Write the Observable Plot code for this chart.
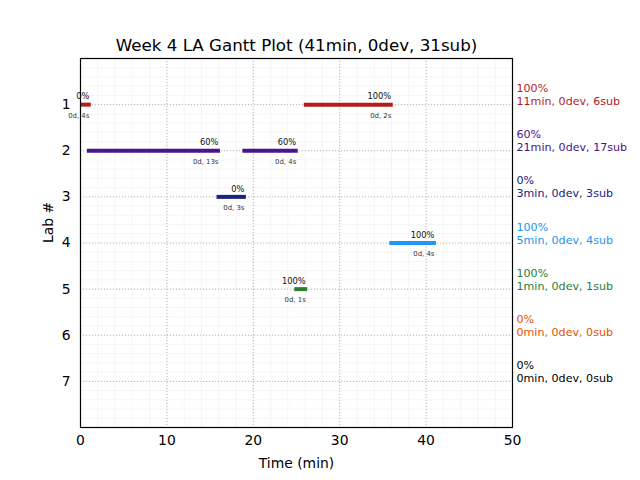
<!DOCTYPE html>
<html><head><meta charset="utf-8">
<script src="https://cdn.jsdelivr.net/npm/d3@7"></script>
<script src="https://cdn.jsdelivr.net/npm/@observablehq/plot@0.6"></script>
<style>body{margin:0;background:#fff}svg{font-family:"DejaVu Sans",sans-serif}</style>
</head><body><div id="chart"></div>
<script>
const title = "Week 4 LA Gantt Plot (41min, 0dev, 31sub)";
const labs = [1, 2, 3, 4, 5, 6, 7];
const labColors = ["#b71c1c", "#4a148c", "#1a237e", "#2196f3", "#2e7d32", "#e65100", "#000000"];
const labPercent = ["100%", "60%", "0%", "100%", "100%", "0%", "0%"];
const labStats = ["11min, 0dev, 6sub", "21min, 0dev, 17sub", "3min, 0dev, 3sub", "5min, 0dev, 4sub", "1min, 0dev, 1sub", "0min, 0dev, 0sub", "0min, 0dev, 0sub"];
const segLab = [1, 1, 2, 2, 3, 4, 5];
const segStart = [0, 25.9, 0.8, 18.8, 15.8, 35.8, 24.8];
const segEnd = [1.25, 36.2, 16.2, 25.2, 19.2, 41.2, 26.3];
const segPercent = ["0%", "100%", "60%", "60%", "0%", "100%", "100%"];
const segTime = ["0d, 4s", "0d, 2s", "0d, 13s", "0d, 4s", "0d, 3s", "0d, 4s", "0d, 1s"];
const xTicks = [0, 10, 20, 30, 40, 50];
const yTicks = [1, 2, 3, 4, 5, 6, 7];

const segs = segLab.map((l, i) => ({lab: l, start: segStart[i], end: segEnd[i], pct: segPercent[i], time: segTime[i], color: labColors[l - 1]}));
const rows = labs.map((l, i) => ({lab: l, color: labColors[i], pct: labPercent[i], stats: labStats[i]}));
const minorX = d3.range(0, 50.001, 2);
const minorY = d3.range(0, 8.001, 0.2);

const chart = Plot.plot({
  width: 640, height: 480,
  marginLeft: 80, marginRight: 128, marginTop: 58, marginBottom: 53,
  style: {fontFamily: "DejaVu Sans, sans-serif", background: "#fff", overflow: "visible"},
  x: {domain: [0, 50], ticks: xTicks, label: null, tickSize: 0, tickPadding: 7},
  y: {domain: [0, 8], reverse: true, ticks: yTicks, label: null, tickSize: 0, tickPadding: 10},
  marks: [
    Plot.ruleX(minorX, {stroke: "#f3f3f3", strokeWidth: 0.8}),
    Plot.ruleY(minorY, {stroke: "#f3f3f3", strokeWidth: 0.8}),
    Plot.ruleX(xTicks.slice(1, -1), {stroke: "#b0b0b0", strokeWidth: 0.9, strokeDasharray: "1,2"}),
    Plot.ruleY(yTicks, {stroke: "#b0b0b0", strokeWidth: 0.9, strokeDasharray: "1,2"}),
    Plot.ruleY(segs, {y: "lab", x1: "start", x2: "end", stroke: "color", strokeWidth: 4}),
    Plot.text(segs, {x: "end", y: "lab", text: "pct", textAnchor: "end", dx: -2, dy: -8, fontSize: 8.3, fill: "#111"}),
    Plot.text(segs, {x: "end", y: "lab", text: "time", textAnchor: "end", dx: -2, dy: 11, fontSize: 6.9, fill: "#333"}),
    Plot.text(rows, {x: 50, y: "lab", text: "pct", fill: "color", textAnchor: "start", dx: 4, dy: -16, fontSize: 11.1}),
    Plot.text(rows, {x: 50, y: "lab", text: "stats", fill: "color", textAnchor: "start", dx: 4, dy: -3, fontSize: 11.1}),
    Plot.frame({stroke: "#000", strokeWidth: 1.2}),
    Plot.axisX({ticks: xTicks, tickSize: 0, tickPadding: 8, fontSize: 13.9, label: null}),
    Plot.axisY({ticks: yTicks, tickSize: 0, tickPadding: 10, fontSize: 13.9, label: null}),
    Plot.text([title], {frameAnchor: "top", dy: -8, lineAnchor: "bottom", fontSize: 16.7, fill: "#000"}),
    Plot.text(["Time (min)"], {frameAnchor: "bottom", dy: 40, fontSize: 13.9, fill: "#000"}),
    Plot.text(["Lab #"], {frameAnchor: "left", dx: -32, rotate: -90, fontSize: 13.9, fill: "#000"})
  ]
});
document.getElementById("chart").appendChild(chart);
</script>
</body></html>
